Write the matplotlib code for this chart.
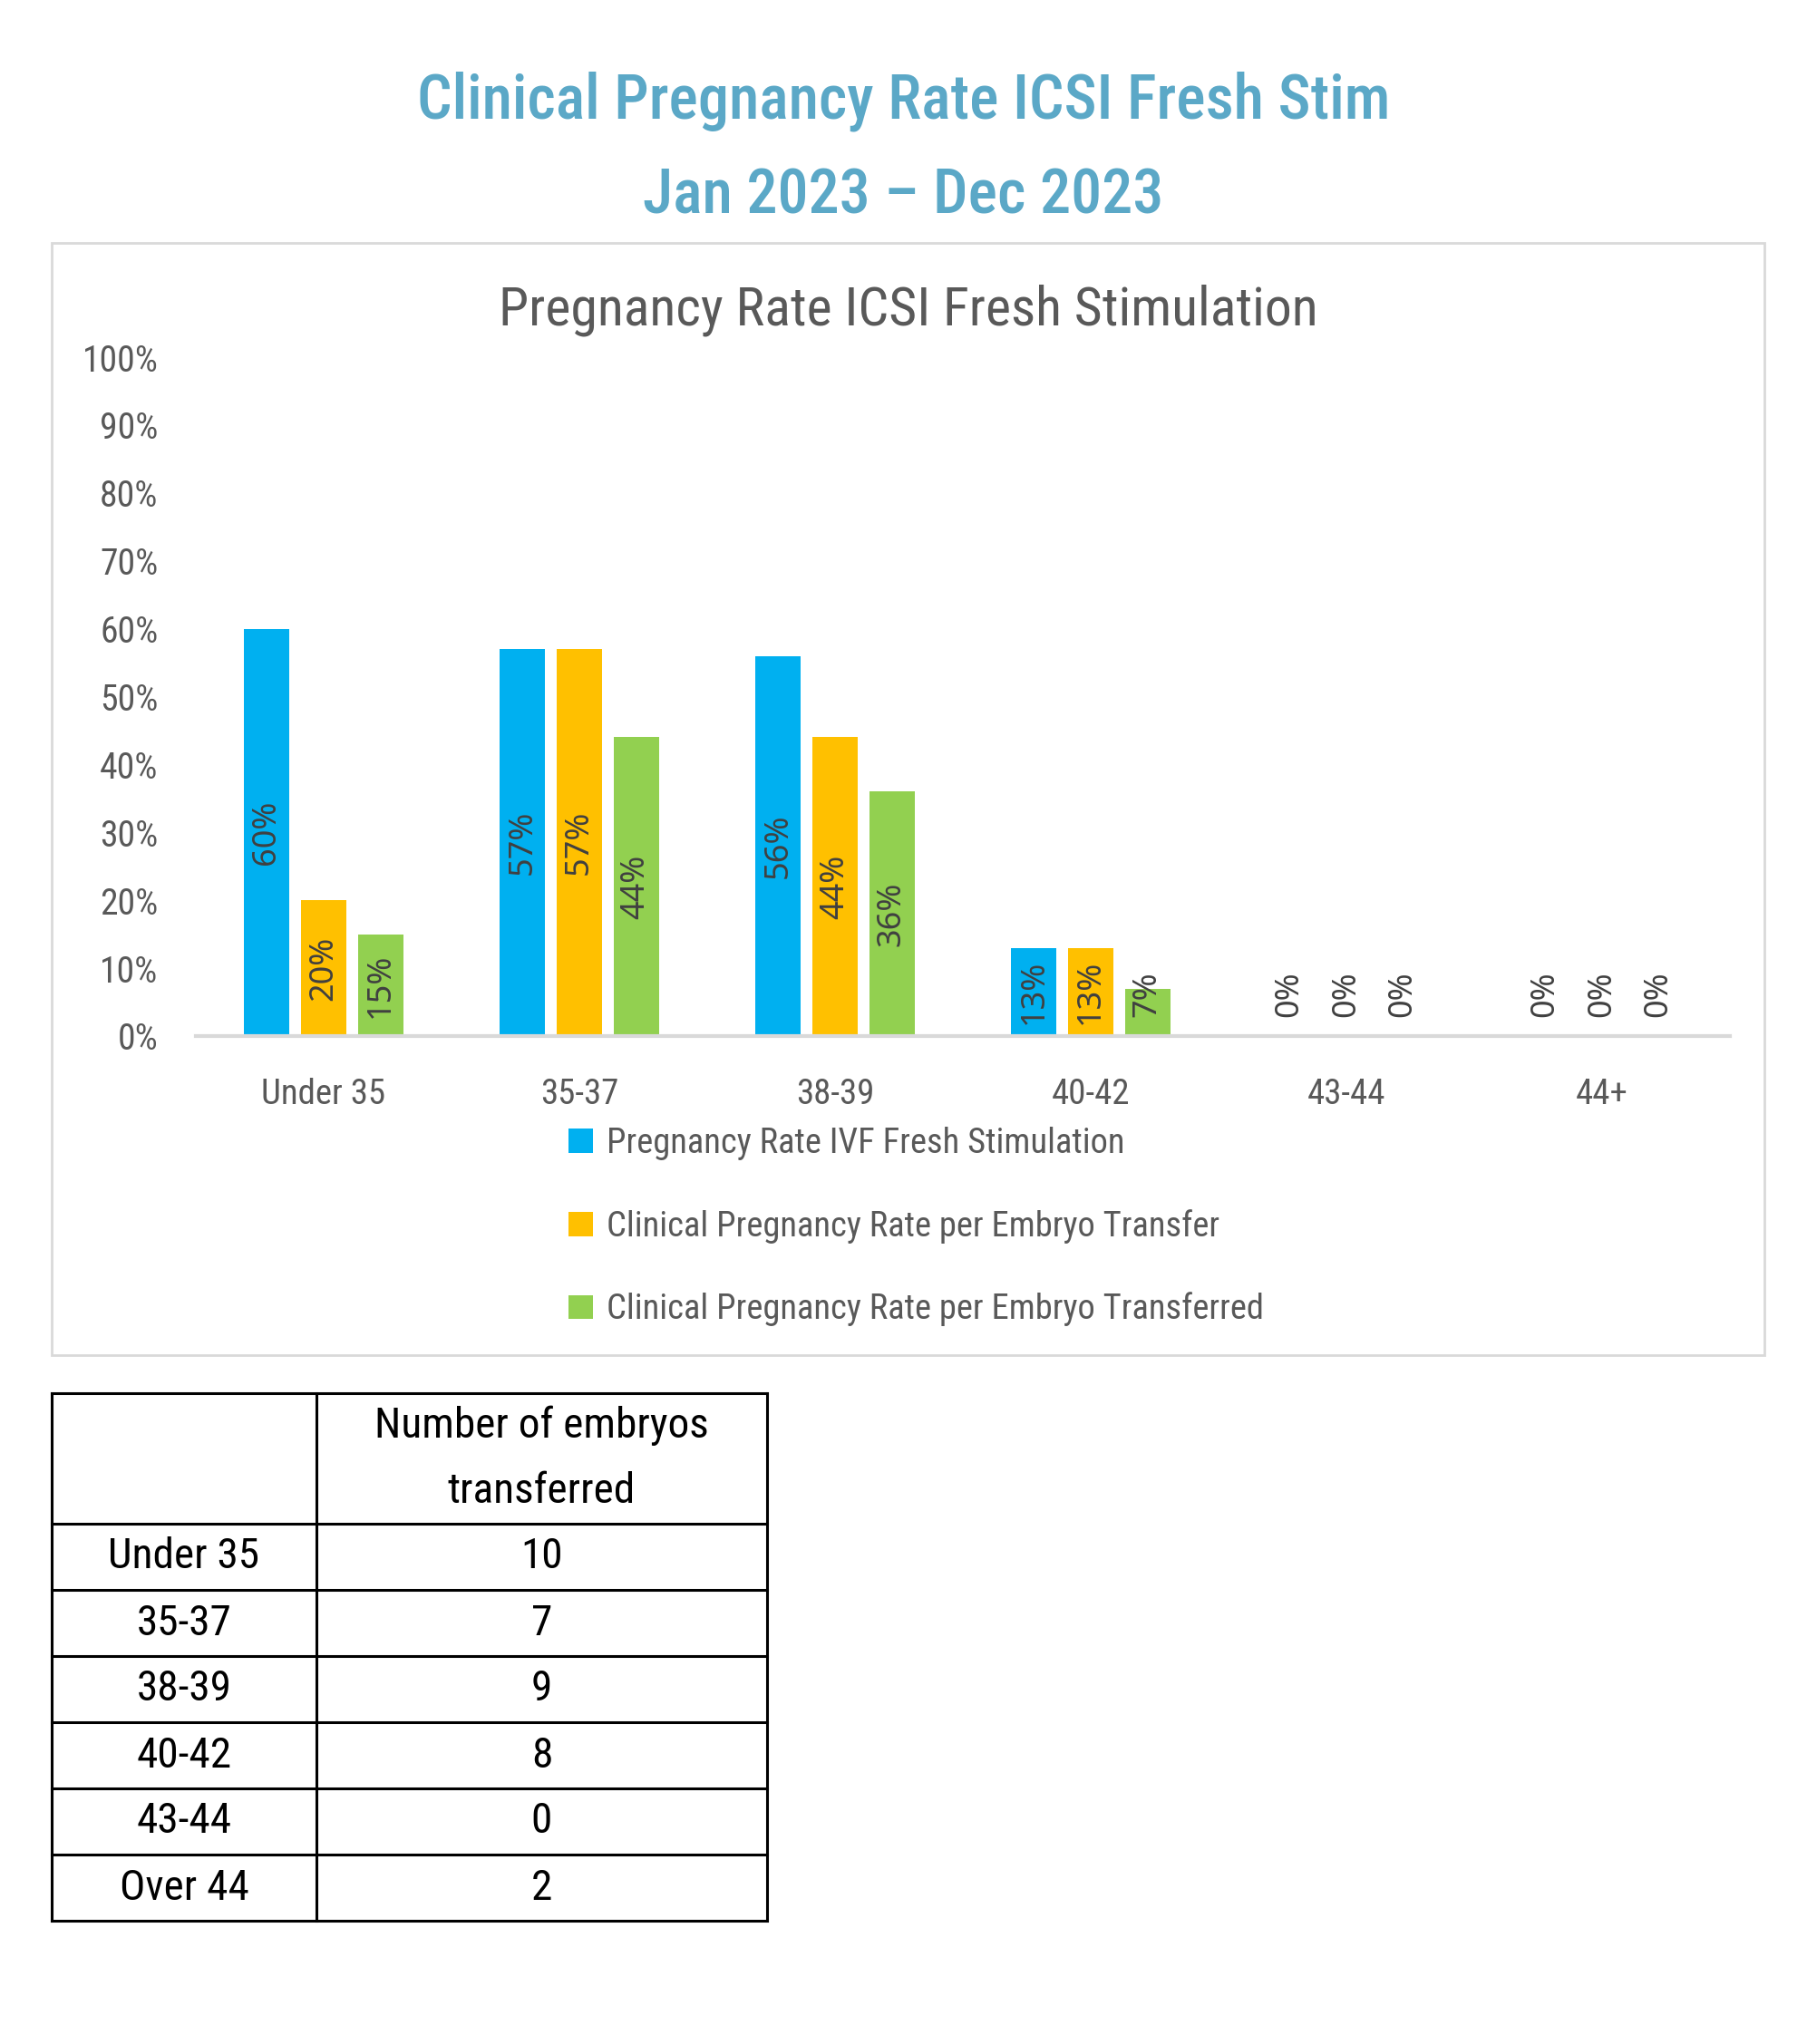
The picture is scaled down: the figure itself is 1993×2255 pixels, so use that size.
import matplotlib
matplotlib.use("Agg")
import matplotlib.pyplot as plt
from matplotlib.patches import Rectangle, Patch

# ---------------- data ----------------
categories = ["Under 35", "35-37", "38-39", "40-42", "43-44", "44+"]
series_names = ["Pregnancy Rate IVF Fresh Stimulation",
                "Clinical Pregnancy Rate per Embryo Transfer",
                "Clinical Pregnancy Rate per Embryo Transferred"]
ivf_rate = [60, 57, 56, 13, 0, 0]
per_transfer = [20, 57, 44, 13, 0, 0]
per_transferred = [15, 44, 36, 7, 0, 0]
series_colors = ["#00B0F0", "#FFC000", "#92D050"]
y_ticks = [0, 10, 20, 30, 40, 50, 60, 70, 80, 90, 100]

table_rows = ["Under 35", "35-37", "38-39", "40-42", "43-44", "Over 44"]
embryos_transferred = [10, 7, 9, 8, 0, 2]
table_header = "Number of embryos\ntransferred"

# ---------------- setup ----------------
W, H = 1993, 2255
FONT = ["Roboto Condensed", "Open Sans Condensed", "DejaVu Sans"]
plt.rcParams["font.family"] = FONT
plt.rcParams["font.stretch"] = "condensed"
fig = plt.figure(figsize=(W / 100, H / 100), dpi=100)
fig.patch.set_facecolor("white")


def fx(px):
    return px / W


def fy(py):
    return 1 - py / H


TITLE_COL = "#5BA8C7"
GRAY = "#595959"

fig.text(0.5, fy(112), "Clinical Pregnancy Rate ICSI Fresh Stim", ha="center", va="center",
         fontsize=49, color=TITLE_COL, fontweight="medium")
fig.text(0.5, fy(216), "Jan 2023 \u2013 Dec 2023", ha="center", va="center",
         fontsize=49, color=TITLE_COL, fontweight="medium")

# chart frame
fig.patches.append(Rectangle((fx(57), fy(1495)), fx(1946) - fx(57), fy(268) - fy(1495),
                             transform=fig.transFigure, fill=False, edgecolor="#D9D9D9", linewidth=2))
fig.text(fx(1002), fy(342), "Pregnancy Rate ICSI Fresh Stimulation", ha="center", va="center",
         fontsize=43, color=GRAY)

# ---------------- bar chart ----------------
ax = fig.add_axes([fx(216), fy(1143), fx(1908) - fx(216), fy(394) - fy(1143)])
ax.set_xlim(-0.5, len(categories) - 0.5)
ax.set_ylim(0, 100)

bw = 0.177
step = 0.222
all_series = [ivf_rate, per_transfer, per_transferred]
for i, (vals, col, name) in enumerate(zip(all_series, series_colors, series_names)):
    xs = [k + (i - 1) * step for k in range(len(categories))]
    ax.bar(xs, vals, width=bw, color=col, label=name, zorder=2)
    for x, v in zip(xs, vals):
        ax.text(x, max(v / 2, 6.2), f"{v}%", rotation=90, ha="center", va="center",
                fontsize=26, color="#404040", family=["Noto Sans", "DejaVu Sans"],
                fontstretch="normal", zorder=3)

ax.set_yticks(y_ticks)
ax.set_yticklabels([f"{t}%" for t in y_ticks])
ax.set_xticks(range(len(categories)))
ax.set_xticklabels(categories)
ax.tick_params(axis="y", length=0, labelsize=28.5, labelcolor=GRAY, pad=30)
ax.tick_params(axis="x", length=0, labelsize=28, labelcolor=GRAY, pad=33)
for s in ["top", "right", "left"]:
    ax.spines[s].set_visible(False)
ax.spines["bottom"].set_color("#D9D9D9")
ax.spines["bottom"].set_linewidth(3)

handles = [Patch(facecolor=c, label=n) for c, n in zip(series_colors, series_names)]
fig.legend(handles=handles, loc="upper left", bbox_to_anchor=(fx(627), fy(1243)),
           frameon=False, fontsize=27.7, labelcolor=GRAY, handlelength=0.7, handleheight=0.7,
           handletextpad=0.4, labelspacing=1.4, borderpad=0, borderaxespad=0)

# ---------------- table ----------------
tx = [57, 349, 846]
ty = [1537, 1681]
row_h = 73
for k in range(len(table_rows)):
    ty.append(1681 + (k + 1) * row_h)

tax = fig.add_axes([0, 0, 1, 1], zorder=-1)
tax.set_xlim(0, W)
tax.set_ylim(H, 0)
tax.axis("off")
for y in ty:
    tax.plot([tx[0], tx[2]], [y, y], color="black", linewidth=2.2)
for x in tx:
    tax.plot([x, x], [ty[0], ty[-1]], color="black", linewidth=2.2)

tax.text((tx[1] + tx[2]) / 2, (ty[0] + ty[1]) / 2, table_header, ha="center", va="center",
         fontsize=34, color="black", linespacing=1.8)
for k, (lab, val) in enumerate(zip(table_rows, embryos_transferred)):
    yc = (ty[k + 1] + ty[k + 2]) / 2
    tax.text((tx[0] + tx[1]) / 2, yc, lab, ha="center", va="center", fontsize=34, color="black")
    tax.text((tx[1] + tx[2]) / 2, yc, str(val), ha="center", va="center", fontsize=34, color="black")

fig.savefig("out.png", dpi=100, facecolor="white")
